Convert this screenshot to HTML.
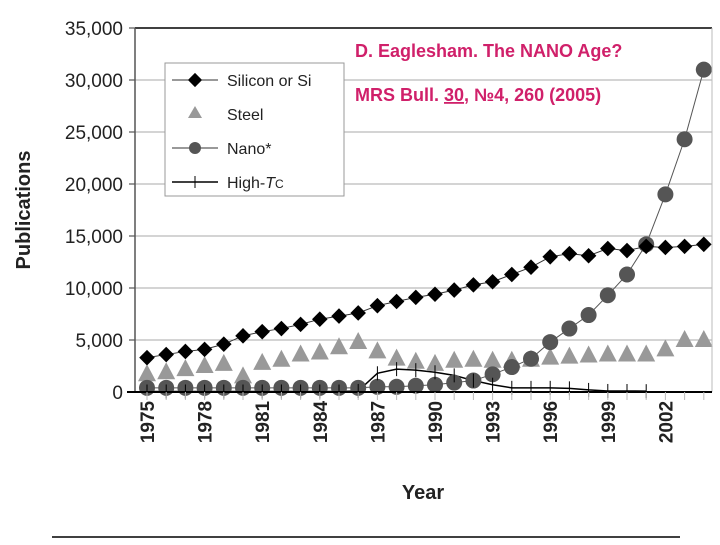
<!DOCTYPE html>
<html><head><meta charset="utf-8"><style>
body{margin:0;background:#fff;width:720px;height:540px;overflow:hidden}
</style></head><body>
<svg width="720" height="540" font-family="Liberation Sans, sans-serif">
<g id="grid"></g>
<g id="series"></g>
<g id="axes"></g>
<text x="30" y="210" transform="rotate(-90 30 210)" text-anchor="middle" font-size="20" font-weight="bold" fill="#222">Publications</text>
<text x="423" y="499" text-anchor="middle" font-size="20" font-weight="bold" fill="#222">Year</text>
<g>
<rect x="165" y="63" width="179" height="133" fill="#fff" stroke="#999"/>
<line x1="172" y1="80" x2="218" y2="80" stroke="#333"/><rect x="190" y="75" width="10" height="10" transform="rotate(45 195 80)" fill="#000"/>
<text x="227" y="86" font-size="16" fill="#222">Silicon or Si</text>
<polygon points="188,118 202,118 195,106" fill="#999"/>
<text x="227" y="120" font-size="16" fill="#222">Steel</text>
<line x1="172" y1="148" x2="218" y2="148" stroke="#333"/><circle cx="195" cy="148" r="6" fill="#555"/>
<text x="227" y="154" font-size="16" fill="#222">Nano*</text>
<line x1="172" y1="182" x2="218" y2="182" stroke="#000" stroke-width="1.5"/><line x1="195" y1="176" x2="195" y2="188" stroke="#000"/>
<text x="227" y="188" font-size="16" fill="#222">High-<tspan font-style="italic">T</tspan><tspan font-size="12">C</tspan></text>
</g>
<text x="355" y="57" font-size="18" font-weight="bold" fill="#d0206a">D. Eaglesham. The NANO Age?</text>
<text x="355" y="101" font-size="18" font-weight="bold" fill="#d0206a">MRS Bull. <tspan text-decoration="underline">30</tspan>, №4, 260 (2005)</text>
<line x1="52" y1="537" x2="680" y2="537" stroke="#000" stroke-width="1.5"/>
</svg>
<script>
const years=[1975,1976,1977,1978,1979,1980,1981,1982,1983,1984,1985,1986,1987,1988,1989,1990,1991,1992,1993,1994,1995,1996,1997,1998,1999,2000,2001,2002,2003,2004];
const silicon=[3300,3600,3900,4100,4600,5400,5800,6100,6500,7000,7300,7600,8300,8700,9100,9400,9800,10300,10600,11300,12000,13000,13300,13100,13800,13600,14000,13900,14000,14200];
const steel=[1800,2000,2300,2600,2800,1600,2900,3200,3700,3900,4400,4900,4000,3300,3000,2800,3100,3200,3100,3100,3200,3400,3500,3600,3700,3700,3700,4200,5100,5100];
const nano=[400,400,400,400,400,400,400,400,400,400,400,400,500,500,600,700,900,1100,1700,2400,3200,4800,6100,7400,9300,11300,14200,19000,24300,31000];
const highTcYears=[1975,1976,1977,1978,1979,1980,1981,1982,1983,1984,1985,1986,1987,1988,1989,1990,1991,1992,1993,1994,1995,1996,1997,1998,1999,2000,2001];
const highTc=[50,50,50,50,50,50,50,50,50,50,50,100,1800,2200,2100,1900,1600,1100,700,400,400,400,350,200,100,100,80];
const yTicks=[0,5000,10000,15000,20000,25000,30000,35000];
const xLabels=[1975,1978,1981,1984,1987,1990,1993,1996,1999,2002];
const NS='http://www.w3.org/2000/svg';
const X0=135,X1=712,Y0=392,Y1=28;
const x=yr=>147+(yr-1975)*19.2;
const y=v=>Y0-(v/35000)*(Y0-Y1);
function mk(t,a,p){const e=document.createElementNS(NS,t);for(const k in a)e.setAttribute(k,a[k]);p.appendChild(e);return e;}
const grid=document.getElementById('grid'),axes=document.getElementById('axes'),ser=document.getElementById('series');
yTicks.forEach(v=>{
 if(v>0&&v<35000){const g=mk('line',{x1:X0,x2:X1,y1:y(v),y2:y(v),stroke:'#aaa'},grid);}
 mk('line',{x1:X0-6,x2:X0,y1:y(v),y2:y(v),stroke:'#333'},axes);
 const t=mk('text',{x:X0-12,y:y(v)+7,'text-anchor':'end','font-size':'19',fill:'#222'},axes);
 t.textContent=v.toLocaleString('en-US');
 
 
});
mk('line',{x1:X0,x2:X1,y1:Y1,y2:Y1,stroke:'#000','stroke-width':1.5},axes);
mk('line',{x1:X0,x2:X0,y1:Y1,y2:Y0,stroke:'#555','stroke-width':1.5},axes);
mk('line',{x1:X1,x2:X1,y1:Y1,y2:Y0,stroke:'#bbb'},axes);
mk('line',{x1:X0-8,x2:X1,y1:Y0,y2:Y0,stroke:'#000','stroke-width':2},axes);
years.forEach(yr=>mk('line',{x1:x(yr),x2:x(yr),y1:Y0,y2:Y0+8,stroke:'#bbb'},axes));
xLabels.forEach(yr=>{
 const t=mk('text',{x:0,y:0,transform:`translate(${x(yr)+7},${Y0+30}) rotate(-90)`,'text-anchor':'middle','font-size':'19','font-weight':'bold',fill:'#222'},axes);
 t.textContent=yr;
 
 
});
function line(xs,vals,stroke,w,name){const p=mk('polyline',{points:xs.map((yr,i)=>x(yr)+','+y(vals[i])).join(' '),fill:'none',stroke:stroke,'stroke-width':w},ser);}
line(years,silicon,'#333',1,'silicon-line');
line(years,nano,'#555',1,'nano-line');
line(highTcYears,highTc,'#000',1.5,'hightc-line');
steel.forEach((v,i)=>{const cx=x(years[i]),cy=y(v);const p=mk('polygon',{points:`${cx-9},${cy+8} ${cx+9},${cy+8} ${cx},${cy-9}`,fill:'#999'},ser);});
nano.forEach((v,i)=>{const c=mk('circle',{cx:x(years[i]),cy:y(v),r:8,fill:'#555'},ser);});
silicon.forEach((v,i)=>{const cx=x(years[i]),cy=y(v);const r=mk('rect',{x:cx-5.5,y:cy-5.5,width:11,height:11,transform:`rotate(45 ${cx} ${cy})`,fill:'#000'},ser);});
highTc.forEach((v,i)=>{const cx=x(highTcYears[i]),cy=y(v);const l=mk('line',{x1:cx,x2:cx,y1:cy-7,y2:cy+7,stroke:'#000'},ser);});
</script>
</body></html>
